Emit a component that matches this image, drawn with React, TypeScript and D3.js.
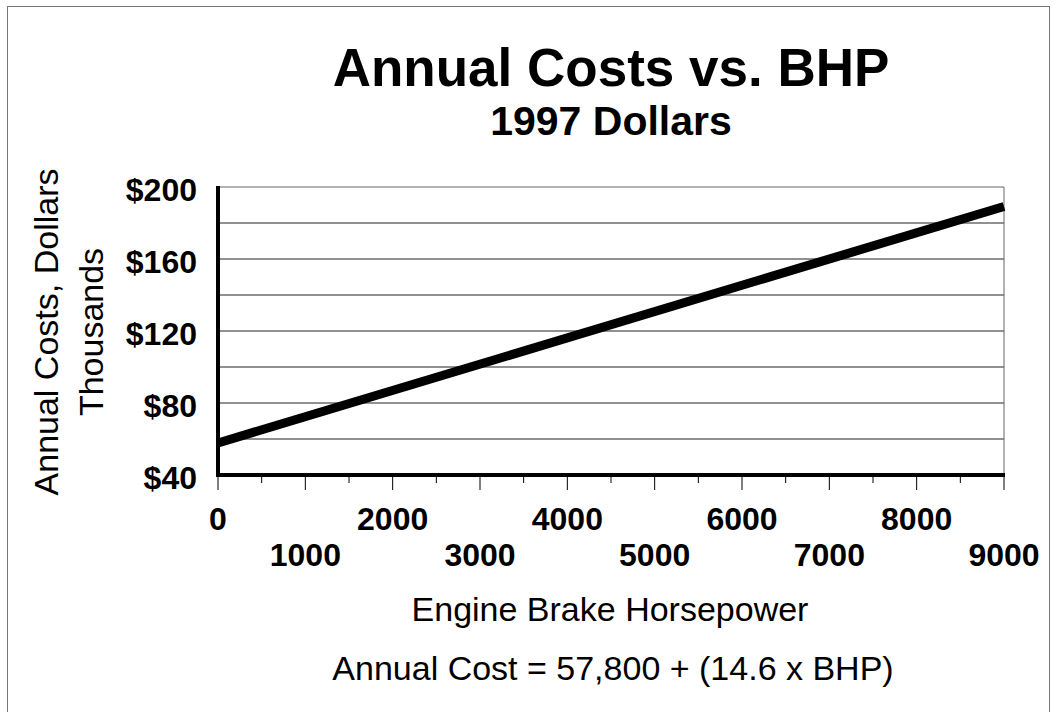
import React from 'react';
import * as d3 from 'd3';

// line endpoints (BHP, thousands of dollars)
const bhp = [0, 9000];
const annualCost = [57.8, 189.2];

const gridValues = [40, 60, 80, 100, 120, 140, 160, 180, 200];
const yLabelValues = [40, 80, 120, 160, 200];
const xLabelValues = [0, 1000, 2000, 3000, 4000, 5000, 6000, 7000, 8000, 9000];
const xMinorValues = [500, 1500, 2500, 3500, 4500, 5500, 6500, 7500, 8500];

const W = 1052;
const H = 712;
const font = '"Liberation Sans", Arial, Helvetica, sans-serif';

const App = () => {
  const x = d3.scaleLinear().domain([0, 9000]).range([218, 1004]);
  const y = d3.scaleLinear().domain([40, 200]).range([475, 187]);

  const pts = bhp.map((b, i) => [b, annualCost[i]] as [number, number]);
  const line = d3.line<[number, number]>()
    .x(d => x(d[0]))
    .y(d => y(d[1]));

  return (
    <svg width={W} height={H} style={{ position: 'absolute', left: 0, top: 0, background: '#fff' }}
      fontFamily={font}>
      {/* outer frame */}
      <rect x={7.5} y={6.5} width={1042} height={720} fill="none" stroke="#777" strokeWidth={1} />

      {/* titles */}
      <text x={611} y={86} textAnchor="middle" fontSize={53} fontWeight="bold">Annual Costs vs. BHP</text>
      <text x={611} y={135} textAnchor="middle" fontSize={41} fontWeight="bold">1997 Dollars</text>

      {/* gridlines */}
      {gridValues.map(v => (
        <line key={v} x1={x(0)} x2={x(9000)} y1={y(v)} y2={y(v)}
          stroke={v === 200 ? '#666' : '#222'} strokeWidth={1} />
      ))}
      {/* right border */}
      <line x1={x(9000)} x2={x(9000)} y1={y(200)} y2={y(40)} stroke="#666" strokeWidth={1} />

      {/* axes */}
      <line x1={x(0)} x2={x(0)} y1={y(200) - 1} y2={y(40) + 2} stroke="#000" strokeWidth={4} />
      <line x1={x(0) - 2} x2={x(9000) + 1} y1={y(40)} y2={y(40)} stroke="#000" strokeWidth={4} />

      {/* x ticks */}
      {xLabelValues.map(v => (
        <line key={'M' + v} x1={x(v)} x2={x(v)} y1={y(40)} y2={y(40) + 15} stroke="#000" strokeWidth={1} />
      ))}
      {xMinorValues.map(v => (
        <line key={'m' + v} x1={x(v)} x2={x(v)} y1={y(40)} y2={y(40) + 8} stroke="#000" strokeWidth={1} />
      ))}

      {/* x labels, alternating rows */}
      {xLabelValues.map((v, i) => (
        <text key={'xl' + v} x={x(v)} y={i % 2 === 0 ? 530 : 566} textAnchor="middle"
          fontSize={32} fontWeight="bold">{v}</text>
      ))}

      {/* y labels */}
      {yLabelValues.map(v => (
        <text key={'yl' + v} x={197} y={y(v) + 3} textAnchor="end" dominantBaseline="central"
          fontSize={32} fontWeight="bold">{'$' + v}</text>
      ))}

      {/* y title */}
      <text transform="translate(58,332) rotate(-90)" textAnchor="middle" fontSize={34}>Annual Costs, Dollars</text>
      <text transform="translate(103,332) rotate(-90)" textAnchor="middle" fontSize={34}>Thousands</text>

      {/* data line */}
      <path d={line(pts) || ''} fill="none" stroke="#000" strokeWidth={9} />

      {/* x title and formula */}
      <text x={610} y={621} textAnchor="middle" fontSize={34}>Engine Brake Horsepower</text>
      <text x={613} y={680} textAnchor="middle" fontSize={34}>Annual Cost = 57,800 + (14.6 x BHP)</text>
    </svg>
  );
};

export default App;
